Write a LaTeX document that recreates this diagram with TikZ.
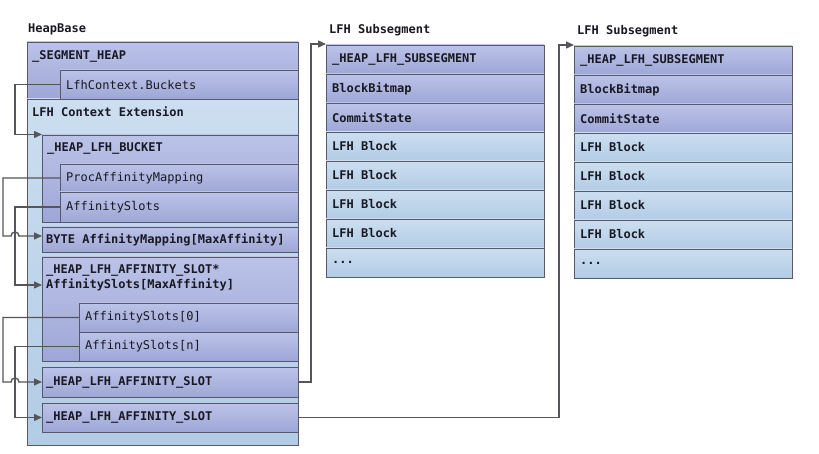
\documentclass[tikz,border=0pt]{standalone}
\usepackage{fontspec}
\setmonofont{DejaVu Sans Mono}
\usetikzlibrary{arrows.meta,calc}

\definecolor{lavtop}{RGB}{188,195,232}
\definecolor{lavbot}{RGB}{158,166,214}
\definecolor{skytop}{RGB}{204,222,240}
\definecolor{skybot}{RGB}{178,204,229}
\definecolor{edge}{RGB}{85,89,105}
\definecolor{wire}{RGB}{85,85,90}
\definecolor{ink}{RGB}{25,25,35}

\tikzset{
  cell/.style={draw=edge, line width=0.9pt, inner sep=0pt, outer sep=0pt, anchor=north west},
  violet cell/.style={cell, top color=lavtop, bottom color=lavbot},
  sky cell/.style={cell, top color=skytop, bottom color=skybot},
  bold txt/.style={anchor=west, inner sep=0pt, text=ink,
    font=\ttfamily\bfseries\fontsize{12}{15}\selectfont},
  plain txt/.style={bold txt, font=\ttfamily\fontsize{12}{15}\selectfont},
  link/.style={draw=wire, line width=1.4pt, -{Triangle[length=8pt,width=7pt]}},
}

% a box given by its name, style and corner coordinates (x1,y1) (x2,y2)
\newcommand\memcell[6]{%
  \node[#2, minimum width={#5-#3}, minimum height={#6-#4}] (#1) at (#3,#4) {};}
\newcommand\moreblocks{...}

\begin{document}
\begin{tikzpicture}[x=1pt,y=-1pt]
\useasboundingbox[fill=white] (0,0) rectangle (819,454);

% ---- HeapBase ----
\node[bold txt] (hbtitle) at (28,29) {HeapBase};
\memcell{seg}{violet cell}{27}{42}{298}{99}
\memcell{ctx}{sky cell}{27}{99}{298}{445}
\memcell{buckets}{violet cell}{60}{70}{298}{99}
\node[bold txt] (segtxt) at (32,56) {\_SEGMENT\_HEAP};
\node[plain txt] (bucketstxt) at (66,85) {LfhContext.Buckets};
\node[bold txt] (ctxtxt) at (32,112) {LFH Context Extension};

\memcell{bucket}{violet cell}{42}{135}{298}{222}
\memcell{procmap}{violet cell}{60}{164}{298}{192}
\memcell{slots}{violet cell}{60}{192}{298}{222}
\node[bold txt] (buckettxt) at (47,148) {\_HEAP\_LFH\_BUCKET};
\node[plain txt] (procmaptxt) at (66,178) {ProcAffinityMapping};
\node[plain txt] (slotstxt) at (66,207) {AffinitySlots};

\memcell{byte}{violet cell}{42}{227}{298}{252}
\node[bold txt] (bytetxt) at (46,240) {BYTE AffinityMapping[MaxAffinity]};

\memcell{slotarr}{violet cell}{42}{257}{298}{361}
\memcell{slot0}{violet cell}{79}{303}{298}{332}
\memcell{slotn}{violet cell}{79}{332}{298}{361}
\node[bold txt, align=left] (slotarrtxt) at (46,278)
  {\_HEAP\_LFH\_AFFINITY\_SLOT*\\AffinitySlots[MaxAffinity]};
\node[plain txt] (slot0txt) at (85,317) {AffinitySlots[0]};
\node[plain txt] (slotntxt) at (85,346) {AffinitySlots[n]};

\memcell{slotA}{violet cell}{42}{367}{298}{397}
\memcell{slotB}{violet cell}{42}{403}{298}{432}
\node[bold txt] (slotAtxt) at (46,382) {\_HEAP\_LFH\_AFFINITY\_SLOT};
\node[bold txt] (slotBtxt) at (46,417.5) {\_HEAP\_LFH\_AFFINITY\_SLOT};

% ---- two LFH subsegments ----
\node[bold txt] (sub1title) at (329,30) {LFH Subsegment};
\node[bold txt] (sub2title) at (577,31) {LFH Subsegment};
\foreach \k/\x/\y in {1/326/45, 2/574/46}{
  \foreach \i/\t/\s in {1/\_HEAP\_LFH\_SUBSEGMENT/violet cell,
                        2/BlockBitmap/violet cell,
                        3/CommitState/violet cell,
                        4/LFH Block/sky cell,
                        5/LFH Block/sky cell,
                        6/LFH Block/sky cell,
                        7/LFH Block/sky cell,
                        8/\moreblocks/sky cell}{
    \node[\s, minimum width=218, minimum height=29]
      (s\k r\i) at (\x,{\y+(\i-1)*29}) {};
    \node[bold txt] (s\k r\i txt) at (\x+6,{\y+(\i-1)*29+14.5}) {\t};
  }
}

% ---- pointers ----
\draw[link] (buckets.west) -- ++(-45,0) |- ([yshift=0.5pt]bucket.north west);
\draw[link] (procmap.west) -- ++(-57,0) |- ($(byte.west)+(-31,-3.5)$)
  arc[start angle=180, end angle=360, radius=4] -- ($(byte.west)+(0,-3.5)$);
\draw[link] (slots.west) -- ++(-45,0) |- ($(slotarr.north west)+(0,28)$);
\draw[link] (slot0.west) -- ++(-76,0) |- ($(slotA.west)+(-31,0)$)
  arc[start angle=180, end angle=360, radius=4] -- (slotA.west);
\draw[link] (slotn.west) -- ++(-64,0) |- (slotB.west);
\draw[link] (slotA.east) -- ++(13,0) |- ([yshift=1pt]s1r1.north west);
\draw[link] (slotB.east) -- ++(261,0) |- ([yshift=1pt]s2r1.north west);
\end{tikzpicture}
\end{document}
